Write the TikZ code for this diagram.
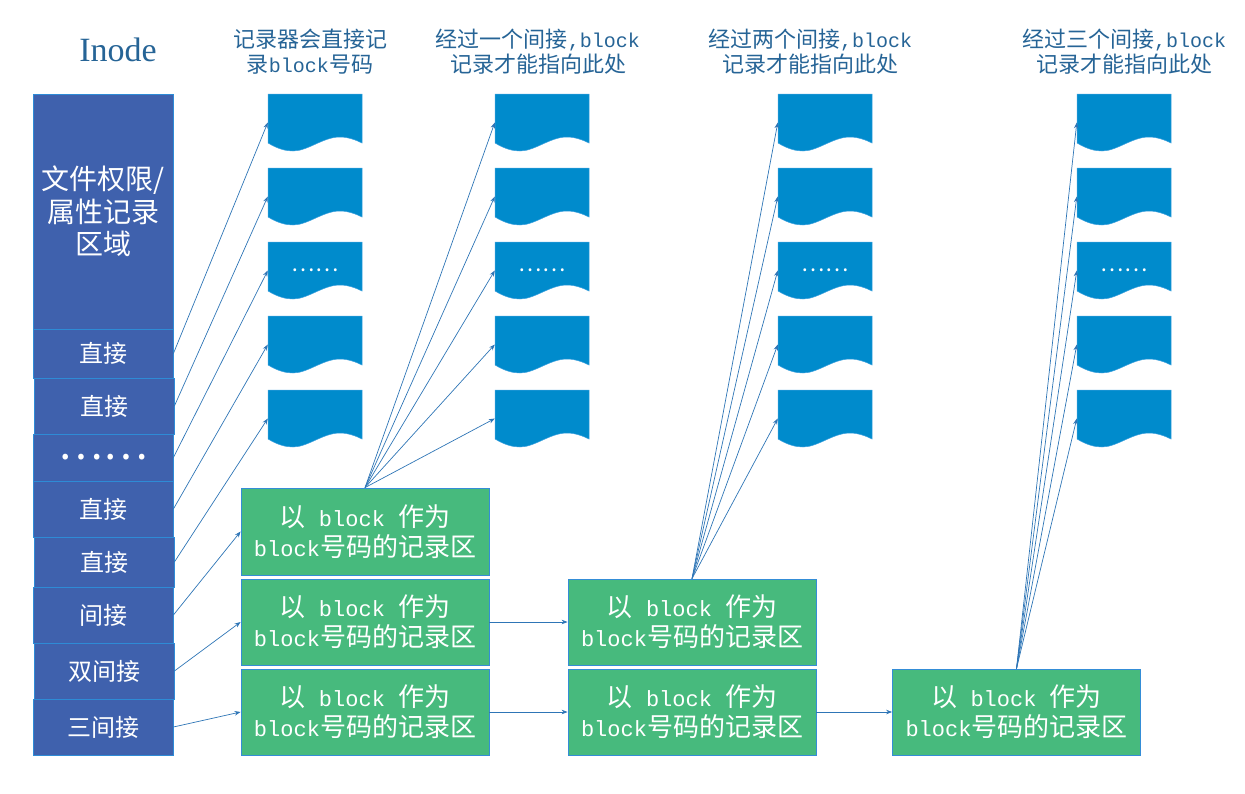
\documentclass[tikz,border=0pt]{standalone}
\usepackage{fontspec}
\newfontfamily\cjk{Noto Sans CJK SC}
\newfontfamily\mono{Liberation Mono}
\newfontfamily\lserif{Liberation Serif}
\usetikzlibrary{arrows.meta}
\definecolor{inodeblue}{RGB}{63,97,173}
\definecolor{inodeedge}{RGB}{46,139,214}
\definecolor{docblue}{RGB}{0,139,204}
\definecolor{docedge}{RGB}{60,160,222}
\definecolor{boxgreen}{RGB}{71,186,125}
\definecolor{greenedge}{RGB}{52,141,215}
\definecolor{linkblue}{RGB}{46,117,182}
\definecolor{headtext}{RGB}{38,100,150}
\tikzset{
  cell/.style={draw=inodeedge, fill=inodeblue, line width=0.8pt, minimum width=140pt,
    minimum height=#1, inner sep=0pt, text=white, font=\cjk\fontsize{24}{28}\selectfont},
  docnode/.style={minimum width=94pt, minimum height=57pt, inner sep=0pt, text=white,
    font=\cjk\fontsize{22}{22}\selectfont},
  docpath/.style={fill=docblue, draw=docedge, line width=0.5pt},
  greenbox/.style={draw=greenedge, fill=boxgreen, line width=0.8pt, minimum width=248pt,
    minimum height=86pt, inner sep=0pt, text=white, align=center,
    font=\cjk\fontsize{26}{30}\selectfont},
  head/.style={text=headtext, align=center, font=\cjk\fontsize{22}{25}\selectfont},
  link/.style={draw=linkblue, line width=0.7pt, -{Stealth[length=6pt,width=4.5pt]}},
}
\newcommand\docshape[4]{%
  \begin{scope}[shift={(#2,#3)}]
    \path[docpath] (0,0) -- (94,0) -- (94,49) .. controls (88,46) and (80,43) .. (72,43)
      .. controls (55,43) and (40,57) .. (25,57) .. controls (18,57) and (10,55) .. (0,49) -- cycle;
  \end{scope}
  \node[docnode] (#1) at (#2+47,#3+28.5) {#4};}
\newcommand\gtext{以{\mono\fontsize{22}{30}\selectfont\ block\ }作为\\{\mono\fontsize{22}{30}\selectfont block}号码的记录区}
\begin{document}
\begin{tikzpicture}[x=1pt,y=-1pt]
\useasboundingbox (0,0) rectangle (1245,793);
% headers
\node[text=headtext, font=\lserif\fontsize{34}{34}\selectfont] (h0) at (118,50) {Inode};
\node[head] (h1) at (310,52) {记录器会直接记\\录{\mono\fontsize{20}{25}\selectfont block}号码};
\node[head] (h2) at (538,52) {经过一个间接{\mono\fontsize{20}{25}\selectfont ,block}\\记录才能指向此处};
\node[head] (h3) at (810,52) {经过两个间接{\mono\fontsize{20}{25}\selectfont ,block}\\记录才能指向此处};
\node[head] (h4) at (1124,52) {经过三个间接{\mono\fontsize{20}{25}\selectfont ,block}\\记录才能指向此处};
% inode column
\node[cell=235pt, align=center, font=\cjk\fontsize{28}{32.5}\selectfont] (c0) at (103,211.5) {文件权限/\\属性记录\\区域};
\node[cell=49pt] (c1) at (103,353.5) {直接};
\node[cell=56pt] (c2) at (104,406) {直接};
\node[cell=47pt] (c3) at (103,457.5) {\fontsize{42}{42}\selectfont ……};
\node[cell=56pt] (c4) at (103,509) {直接};
\node[cell=50pt] (c5) at (104,562) {直接};
\node[cell=56pt] (c6) at (103,615) {间接};
\node[cell=56pt] (c7) at (104,671) {双间接};
\node[cell=56pt] (c8) at (103,727) {三间接};
% documents
\foreach \col/\x in {a/268,b/495,d/778,e/1077}{
  \docshape{\col1}{\x}{94}{}
  \docshape{\col2}{\x}{168}{}
  \docshape{\col3}{\x}{242}{……}
  \docshape{\col4}{\x}{316}{}
  \docshape{\col5}{\x}{390}{}
}
% green boxes
\node[greenbox, minimum height=87pt] (g1) at (365,531.5) {\gtext};
\node[greenbox] (g2) at (365,622) {\gtext};
\node[greenbox] (g3) at (365,712) {\gtext};
\node[greenbox] (g4) at (692,622) {\gtext};
\node[greenbox] (g5) at (692,712) {\gtext};
\node[greenbox] (g6) at (1016.5,712) {\gtext};
% direct links
\draw[link] (c1.east) -- (a1.west);
\draw[link] (c2.east) -- (a2.west);
\draw[link] (c3.east) -- (a3.west);
\draw[link] (c4.east) -- (a4.west);
\draw[link] (c5.east) -- (a5.west);
\draw[link] (c6.east) -- (g1.west);
\draw[link] (c7.east) -- (g2.west);
\draw[link] (c8.east) -- (g3.west);
% fans
\foreach \i in {1,...,5}{
  \draw[link] (g1.north) -- (b\i.west);
  \draw[link] (g4.north) -- (d\i.west);
  \draw[link] (g6.north) -- (e\i.west);
}
% chains
\draw[link] (g2.east) -- (g4.west);
\draw[link] (g3.east) -- (g5.west);
\draw[link] (g5.east) -- (g6.west);
\end{tikzpicture}
\end{document}
